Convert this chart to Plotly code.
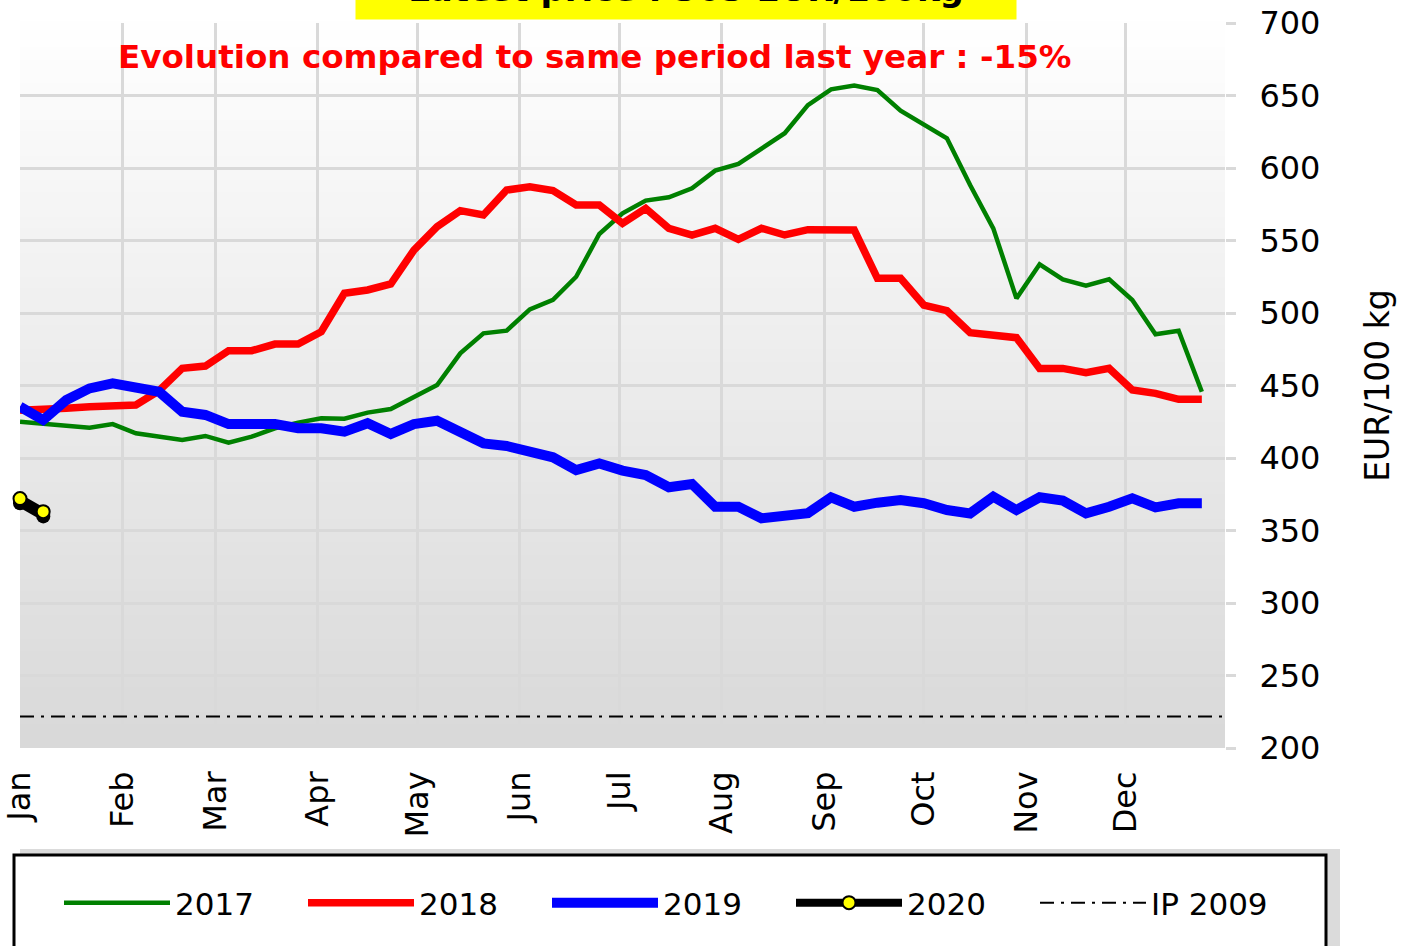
import plotly.graph_objects as go

# ---------------- data ----------------
weeks = list(range(1, 53))
months = ["Jan", "Feb", "Mar", "Apr", "May", "Jun", "Jul", "Aug", "Sep", "Oct", "Nov", "Dec"]
month_start_day = [0, 31, 59, 90, 120, 151, 181, 212, 243, 273, 304, 334]

p2017 = [425.0, 423.9, 422.3, 420.9, 423.4, 417.0, 414.7, 412.4, 415.2, 410.6,
         414.7, 420.5, 424.4, 427.4, 427.1, 431.3, 433.8, 441.8, 450.3, 472.2,
         486.0, 487.8, 502.5, 509.0, 525.0, 554.5, 568.7, 577.5, 579.8, 586.0,
         598.2, 602.8, 613.8, 624.0, 643.4, 654.3, 656.8, 653.8, 639.5, 629.7,
         620.5, 588.3, 558.4, 510.1, 533.6, 523.2, 518.8, 523.2, 509.0, 485.3,
         487.8, 445.7]

p2018 = [433.0, 433.1, 434.3, 435.4, 435.4, 436.6, 446.4, 461.8, 463.4, 474.0,
         474.0, 478.6, 478.6, 487.1, 513.6, 515.9, 520.0, 543.4, 559.5, 570.6,
         567.6, 584.8, 587.1, 584.4, 574.5, 574.5, 561.8, 572.2, 558.4, 553.8,
         558.4, 550.8, 558.4, 553.8, 557.5, 557.2, 557.2, 523.9, 523.9, 505.5,
         501.6, 486.4, 484.8, 483.0, 461.8, 461.8, 458.9, 461.8, 446.9, 444.6,
         440.5, 440.5]

p2019 = [435.4, 426.2, 440.0, 448.0, 451.5, 449.2, 445.7, 431.9, 429.7, 423.4,
         423.4, 423.4, 420.5, 420.5, 418.2, 424.0, 416.6, 423.4, 425.7, 417.0,
         410.1, 408.3, 403.7, 400.5, 391.7, 396.3, 391.3, 388.3, 379.8, 382.1,
         366.4, 366.4, 358.4, 359.5, 362.0, 372.9, 366.4, 369.2, 371.0, 368.8,
         364.1, 361.8, 373.3, 364.1, 372.9, 370.6, 361.8, 366.4, 372.2, 366.0,
         368.8, 368.8]

p2020 = [372.0, 363.0]

ip_2009 = 221.75

latest_price = 363
evolution_pct = -15

# ---------------- figure ----------------
FONT = "DejaVu Sans, Verdana, sans-serif"
month_pos = [1 + d / 7 for d in month_start_day]
X_RANGE = [1, 53]
Y_RANGE = [200, 700]

fig = go.Figure()
fig.add_trace(go.Scatter(x=weeks, y=p2017, name="2017", mode="lines",
                         line=dict(color="#008000", width=4.5)))
fig.add_trace(go.Scatter(x=weeks, y=p2018, name="2018", mode="lines",
                         line=dict(color="#ff0000", width=7.5)))
fig.add_trace(go.Scatter(x=weeks, y=p2019, name="2019", mode="lines",
                         line=dict(color="#0000ff", width=10)))
# drop shadow of the 2020 series (same data, drawn on a slightly shifted overlay axis)
fig.add_trace(go.Scatter(x=weeks[:len(p2020)], y=p2020, name="2020 shadow", mode="lines+markers",
                         xaxis="x2", yaxis="y2", showlegend=False, hoverinfo="skip",
                         line=dict(color="black", width=8), cliponaxis=False,
                         marker=dict(color="black", size=14, line=dict(width=0))))
fig.add_trace(go.Scatter(x=weeks[:len(p2020)], y=p2020, name="2020", mode="lines+markers",
                         xaxis="x3", yaxis="y3",
                         line=dict(color="black", width=8), cliponaxis=False,
                         marker=dict(color="#ffff00", size=13, line=dict(color="black", width=2))))
fig.add_trace(go.Scatter(x=X_RANGE, y=[ip_2009, ip_2009], name="IP 2009", mode="lines",
                         line=dict(color="black", width=2, dash="14px,7px,3px,7px")))

# gradient plot background
shapes = []
N = 60
for i in range(N):
    t = i / N
    c = int(217 + (255 - 217) * (t + 0.5 / N))
    shapes.append(dict(type="rect", xref="paper", yref="paper",
                       x0=0, x1=1, y0=t, y1=(i + 1) / N + 0.002,
                       fillcolor=f"rgb({c},{c},{c})", line=dict(width=0), layer="below"))

W, H = 1205.0, 725.0
def px_x(px):
    return (px - 20) / W
def px_y(py):
    return (748 - py) / H

# legend box with shadow
shapes.append(dict(type="rect", xref="paper", yref="paper",
                   x0=px_x(20), x1=px_x(1340), y0=px_y(980), y1=px_y(849),
                   fillcolor="rgba(0,0,0,0.14)", line=dict(width=0), layer="below"))
shapes.append(dict(type="rect", xref="paper", yref="paper",
                   x0=px_x(14), x1=px_x(1326), y0=px_y(980), y1=px_y(855),
                   fillcolor="white", line=dict(color="black", width=3), layer="below"))

annotations = [
    dict(text=f"<b>Latest price : {latest_price} EUR/100kg</b>", xref="paper", yref="paper",
         x=px_x(686), y=px_y(20), xanchor="center", yanchor="bottom",
         showarrow=False, bgcolor="#ffff00", width=658, height=58,
         font=dict(family=FONT, size=34, color="black")),
    dict(text=f"<b>Evolution compared to same period last year : {evolution_pct}%</b>",
         xref="paper", yref="paper", x=px_x(594), y=px_y(57),
         xanchor="center", yanchor="middle", showarrow=False,
         font=dict(family=FONT, size=32.6, color="#ff0000")),
]

# shadow offset (pixels) expressed as overlay-axis domains with identical scale
dx = 7 / W
dy = 7 / H
x_span = X_RANGE[1] - X_RANGE[0]
y_span = Y_RANGE[1] - Y_RANGE[0]

fig.update_layout(
    width=1403, height=946,
    margin=dict(l=20, r=178, t=23, b=198, autoexpand=False),
    paper_bgcolor="white", plot_bgcolor="rgba(0,0,0,0)",
    font=dict(family=FONT, size=32, color="black"),
    shapes=shapes, annotations=annotations,
    showlegend=True,
    legend=dict(orientation="h", x=px_x(1279), y=px_y(903), xanchor="right", yanchor="middle",
                bgcolor="rgba(0,0,0,0)", borderwidth=0,
                font=dict(family=FONT, size=31, color="black"),
                entrywidth=123, entrywidthmode="pixels", itemwidth=106,
                traceorder="normal"),
    xaxis2=dict(overlaying="x", domain=[dx, 1],
                range=[X_RANGE[0], X_RANGE[0] + x_span * (1 - dx)], visible=False),
    yaxis2=dict(overlaying="y", domain=[0, 1 - dy],
                range=[Y_RANGE[1] - y_span * (1 - dy), Y_RANGE[1]], visible=False),
    xaxis3=dict(overlaying="x", range=X_RANGE, visible=False),
    yaxis3=dict(overlaying="y", range=Y_RANGE, visible=False),
)

fig.update_layout(
    xaxis=dict(range=X_RANGE, tickvals=month_pos, ticktext=months, tickangle=-90,
               showgrid=True, gridcolor="#d9d9d9", gridwidth=2.5, zeroline=False,
               ticks="", ticklabelstandoff=16, tickfont=dict(family=FONT, size=32),
               showline=False, automargin=False),
    yaxis=dict(range=Y_RANGE, dtick=50, side="right",
               showgrid=True, gridcolor="#d9d9d9", gridwidth=2.5, zeroline=False,
               ticks="outside", ticklen=10, tickwidth=2.5, tickcolor="#d9d9d9",
               ticklabelstandoff=17, tickfont=dict(family=FONT, size=32),
               title=dict(text="EUR/100 kg", font=dict(family=FONT, size=33), standoff=46),
               showline=False, automargin=False),
)

fig.write_html("out.html", config={"displayModeBar": False},
               post_script="document.body.style.margin='0';")
